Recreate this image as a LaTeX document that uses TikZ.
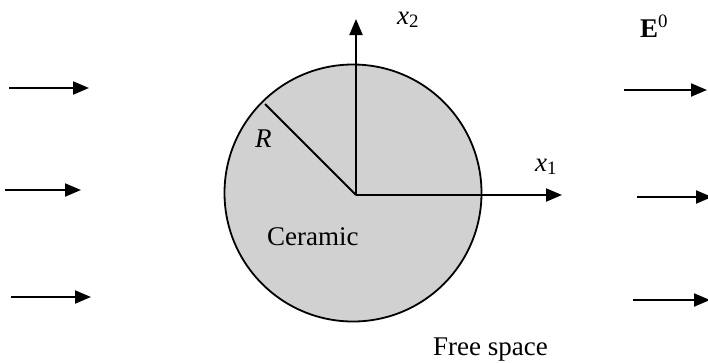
\documentclass[tikz,border=0pt]{standalone}
\usepackage{fontspec}
\setmainfont{Liberation Serif}
\usetikzlibrary{arrows.meta}
\tikzset{
  fieldarrow/.style={line width=2pt,-{Triangle[length=16pt,width=13pt]}},
  axisarrow/.style={line width=2pt,-{Triangle[length=16pt,width=13pt]}},
  lbl/.style={font=\fontsize{27}{30}\selectfont, inner sep=0pt, anchor=base west}
}
\begin{document}
\begin{tikzpicture}[x=1pt,y=-1pt]
\useasboundingbox (0,0) rectangle (708,362);
\coordinate (O) at (356,195);
\node[circle, draw, line width=1.8pt, fill=black!18, minimum size=257pt, inner sep=0pt] (disk) at (353,193) {};
\coordinate (Rend) at (265,104);
\draw[line width=2pt] (O) -- (Rend);
\coordinate (x2tip) at (356,19);
\coordinate (x1tip) at (562,195);
\draw[axisarrow] (O) -- (x2tip);
\draw[axisarrow] (O) -- (x1tip);
\node[lbl] (x2lab) at (397,24) {\textit{x}\textsubscript{2}};
\node[lbl] (x1lab) at (535,171) {\textit{x}\textsubscript{1}};
\node[lbl] (Rlab) at (255,147) {\textit{R}};
\node[lbl] (cer) at (267,245) {Ceramic};
\node[lbl] (free) at (433,355) {Free space};
\node[lbl] (E) at (640,37) {\textbf{E}\textsuperscript{0}};
% left arrows
\coordinate (l1s) at (9,88);  \coordinate (l1e) at (89,88);
\coordinate (l2s) at (5,190); \coordinate (l2e) at (81,190);
\coordinate (l3s) at (11,297); \coordinate (l3e) at (91,297);
\draw[fieldarrow] (l1s) -- (l1e);
\draw[fieldarrow] (l2s) -- (l2e);
\draw[fieldarrow] (l3s) -- (l3e);
% right arrows
\coordinate (r1s) at (624,90);  \coordinate (r1e) at (707,90);
\coordinate (r2s) at (637,197); \coordinate (r2e) at (712,197);
\coordinate (r3s) at (633,300); \coordinate (r3e) at (710,300);
\draw[fieldarrow] (r1s) -- (r1e);
\draw[fieldarrow] (r2s) -- (r2e);
\draw[fieldarrow] (r3s) -- (r3e);
\end{tikzpicture}
\end{document}
